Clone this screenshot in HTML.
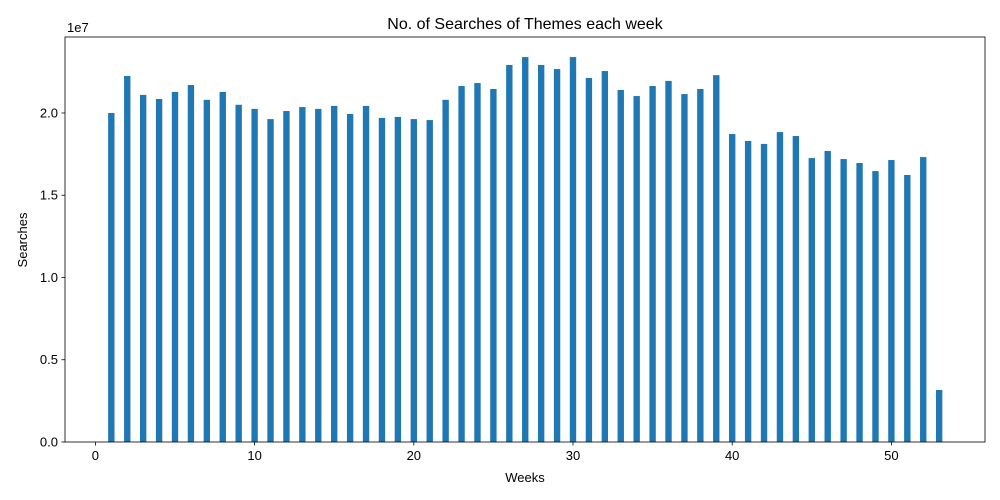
<!DOCTYPE html>
<html><head><meta charset="utf-8"><style>
html,body{margin:0;padding:0;background:#fff;}
svg{display:block;font-family:"Liberation Sans","DejaVu Sans",sans-serif;}
</style></head><body>
<svg id="chart" width="1000" height="500" viewBox="0 0 1000 500" xmlns="http://www.w3.org/2000/svg">
<rect width="1000" height="500" fill="#fff"/>
<text x="525" y="29" font-size="16" text-anchor="middle" fill="#000">No. of Searches of Themes each week</text>
<text x="525" y="482" font-size="13" text-anchor="middle" fill="#000">Weeks</text>
<text x="0" y="0" font-size="13" text-anchor="middle" fill="#000" transform="translate(27,240) rotate(-90)">Searches</text>
<text x="67" y="32" font-size="13" fill="#000">1e7</text>
<g id="bars"></g>
<g id="axes"></g>
</svg>
<script>
const weeks = [1,2,3,4,5,6,7,8,9,10,11,12,13,14,15,16,17,18,19,20,21,22,23,24,25,26,27,28,29,30,31,32,33,34,35,36,37,38,39,40,41,42,43,44,45,46,47,48,49,50,51,52,53];
const searches = [20.0,22.25,21.1,20.85,21.28,21.7,20.8,21.28,20.5,20.25,19.63,20.12,20.36,20.25,20.43,19.94,20.43,19.7,19.76,19.63,19.57,20.8,21.64,21.82,21.46,22.92,23.4,22.92,22.67,23.4,22.13,22.55,21.4,21.03,21.64,21.95,21.15,21.46,22.3,18.72,18.3,18.12,18.84,18.6,17.26,17.69,17.2,16.96,16.47,17.14,16.23,17.32,3.16].map(v=>v*1e6);
const xTicks = [0,10,20,30,40,50];
const yTicks = [0,0.5e7,1.0e7,1.5e7,2.0e7];
const yTickLabels = ["0.0","0.5","1.0","1.5","2.0"];

const L=65,R=985,T=37,B=442;
const xMin=-1.91,xMax=55.88,yMax=24.62e6;
const xs=v=>L+(v-xMin)/(xMax-xMin)*(R-L);
const ys=v=>B-v/yMax*(B-T);
const NS="http://www.w3.org/2000/svg";
const bars=document.getElementById('bars');
const axes=document.getElementById('axes');
const bw=(xs(0.4)-xs(0));
weeks.forEach((w,i)=>{
  const r=document.createElementNS(NS,'rect');
  r.setAttribute('x',xs(w)-bw/2);
  r.setAttribute('y',ys(searches[i]));
  r.setAttribute('width',bw);
  r.setAttribute('height',B-ys(searches[i]));
  r.setAttribute('fill','#1f77b4');
  
  
  bars.appendChild(r);
});
const frame=document.createElementNS(NS,'rect');
frame.setAttribute('x',L);frame.setAttribute('y',T);
frame.setAttribute('width',R-L);frame.setAttribute('height',B-T);
frame.setAttribute('fill','none');frame.setAttribute('stroke','#000');frame.setAttribute('stroke-width','0.8');


axes.appendChild(frame);
xTicks.forEach(t=>{
  const x=xs(t);
  const l=document.createElementNS(NS,'line');
  l.setAttribute('x1',x);l.setAttribute('x2',x);l.setAttribute('y1',B);l.setAttribute('y2',B+3.5);
  l.setAttribute('stroke','#000');l.setAttribute('stroke-width','0.8');
  
  
  axes.appendChild(l);
  const tx=document.createElementNS(NS,'text');
  tx.setAttribute('x',x);tx.setAttribute('y',B+18);tx.setAttribute('font-size','13');tx.setAttribute('text-anchor','middle');
  tx.textContent=t;
  
  
  axes.appendChild(tx);
});
yTicks.forEach((t,i)=>{
  const y=ys(t);
  const l=document.createElementNS(NS,'line');
  l.setAttribute('x1',L-3.5);l.setAttribute('x2',L);l.setAttribute('y1',y);l.setAttribute('y2',y);
  l.setAttribute('stroke','#000');l.setAttribute('stroke-width','0.8');
  
  
  axes.appendChild(l);
  const tx=document.createElementNS(NS,'text');
  tx.setAttribute('x',L-7);tx.setAttribute('y',y+4.5);tx.setAttribute('font-size','13');tx.setAttribute('text-anchor','end');
  tx.textContent=yTickLabels[i];
  
  
  axes.appendChild(tx);
});
</script>
</body></html>
